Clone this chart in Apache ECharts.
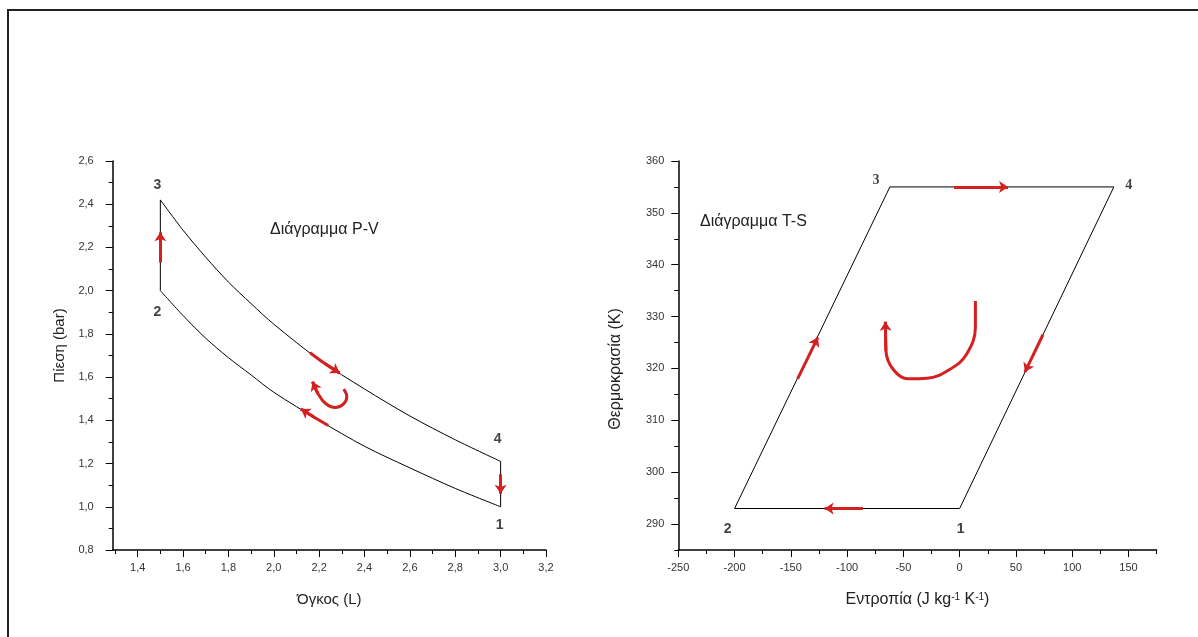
<!DOCTYPE html>
<html>
<head>
<meta charset="utf-8">
<title>P-V / T-S</title>
<script src="https://cdn.jsdelivr.net/npm/echarts@6/dist/echarts.min.js"></script>
<style>
html, body { margin: 0; padding: 0; background: #fff; }
#chart { width: 1198px; height: 637px; }
</style>
</head>
<body>
<div id="chart"></div>
<script>
// P-V diagram (volume in L, pressure in bar)
var pvVolume = [1.5, 1.6, 1.7, 1.8, 1.9, 2.0, 2.2, 2.4, 2.6, 2.8, 3.0];
var pvLowP = [2.00, 1.885, 1.78, 1.69, 1.61, 1.53, 1.40, 1.28, 1.18, 1.085, 1.00];
var pvHighP = [2.42, 2.28, 2.155, 2.04, 1.94, 1.845, 1.68, 1.545, 1.42, 1.31, 1.21];
var pvStates = [[3.0, 1.00], [1.5, 2.00], [1.5, 2.42], [3.0, 1.21]];
var pvArrows = [
    [[1.5, 2.13], [1.5, 2.27]],
    [[3.0, 1.15], [3.0, 1.06]],
    [[2.16, 1.713], [2.225, 1.663], [2.29, 1.619]],
    [[2.24, 1.376], [2.18, 1.413], [2.12, 1.452]],
    [[2.308, 1.544], [2.322, 1.51], [2.308, 1.476], [2.271, 1.459], [2.227, 1.479], [2.194, 1.525], [2.171, 1.579]]
];
var pvXTicks = [1.4, 1.6, 1.8, 2.0, 2.2, 2.4, 2.6, 2.8, 3.0, 3.2];
var pvXMinor = [1.3, 1.5, 1.7, 1.9, 2.1, 2.3, 2.5, 2.7, 2.9, 3.1];
var pvYTicks = [0.8, 1.0, 1.2, 1.4, 1.6, 1.8, 2.0, 2.2, 2.4, 2.6];
var pvYMinor = [0.9, 1.1, 1.3, 1.5, 1.7, 1.9, 2.1, 2.3, 2.5];

// T-S diagram (entropy, temperature in K)
var tsStates = [[0, 293], [-200, 293], [-62, 355], [137, 355]];
var tsArrows = [
    [[-5, 355], [43, 355]],
    [[-86, 293], [-120, 293]],
    [[-144, 318], [-126, 326]],
    [[74, 326.5], [58, 319.3]],
    [[14, 333], [14, 328], [6, 322.7], [-9, 319.8], [-29, 318.1], [-46, 318], [-59, 319.8], [-65.5, 323.4], [-66, 329]]
];
var tsXTicks = [-250, -200, -150, -100, -50, 0, 50, 100, 150];
var tsXMinor = [-225, -175, -125, -75, -25, 25, 75, 125, 175];
var tsYTicks = [290, 300, 310, 320, 330, 340, 350, 360];
var tsYMinor = [285, 295, 305, 315, 325, 335, 345, 355];

var stateNames = ['1', '2', '3', '4'];

// label offsets (px) for the state numbers
var pvLabelOffsets = [[-1, 18], [-3, 21], [-3, -15], [-3, -22]];
var tsLabelOffsets = [[1, 21], [-7, 21], [-14, -7], [15, -2]];

var RED = '#d42020';
var AXIS_FONT = 'Liberation Sans, Arial, sans-serif';

var m_oChart = echarts.init(document.getElementById('chart'));

var _commaFmt = function (v) {
    return v.toFixed(1).replace('.', ',');
};

// axis carrying the line and the short ticks
var _minorAxis = function (iGrid, min, max, arrTicks, strPos) {
    return {
        type: 'value', gridIndex: iGrid, position: strPos,
        min: min, max: max,
        axisLine: { show: true, onZero: false, lineStyle: { color: '#000', width: 1.5 } },
        axisTick: { show: true, inside: false, length: 4, customValues: arrTicks, lineStyle: { color: '#000', width: 1 } },
        axisLabel: { show: false },
        splitLine: { show: false }
    };
};

// axis carrying the long ticks, labels and name
var _majorAxis = function (iGrid, min, max, arrTicks, strPos, fmt, iMargin, oName) {
    var o = {
        type: 'value', gridIndex: iGrid, position: strPos,
        min: min, max: max,
        axisLine: { show: false, onZero: false },
        axisTick: { show: true, inside: false, length: 7, customValues: arrTicks, lineStyle: { color: '#000', width: 1 } },
        axisLabel: {
            show: true, customValues: arrTicks, formatter: fmt, margin: iMargin,
            color: '#333', fontSize: 11, fontFamily: AXIS_FONT
        },
        splitLine: { show: false }
    };
    for (var k in oName) o[k] = oName[k];
    return o;
};

var _pairs = function (arrX, arrY) {
    return arrX.map(function (x, i) { return [x, arrY[i]]; });
};

var _blackLine = function (arrData, iAxis, bSmooth) {
    return {
        type: 'line', xAxisIndex: iAxis, yAxisIndex: iAxis, data: arrData,
        smooth: bSmooth ? 0.3 : false, showSymbol: false, silent: true, z: 3,
        lineStyle: { color: '#000', width: 1 }
    };
};

var _labelSeries = function (arrStates, arrOffsets, iAxis, arrFonts) {
    return {
        type: 'scatter', xAxisIndex: iAxis, yAxisIndex: iAxis, symbolSize: 0, silent: true, z: 6,
        data: arrStates.map(function (p, i) {
            return {
                value: p,
                label: {
                    show: true, formatter: stateNames[i], position: 'inside',
                    offset: arrOffsets[i], color: '#111', fontSize: 14, fontWeight: 'bold',
                    fontFamily: arrFonts[i]
                }
            };
        })
    };
};

// red arrows: body drawn as line, head as a lines segment with arrow symbol
var _arrowSeries = function (arrPaths, iAxis) {
    var arr = [];
    var heads = [];
    arrPaths.forEach(function (path) {
        if (path.length > 2) {
            arr.push({
                type: 'line', xAxisIndex: iAxis, yAxisIndex: iAxis, data: path,
                smooth: 0.4, showSymbol: false, silent: true, z: 5,
                lineStyle: { color: RED, width: 3 }
            });
        }
        heads.push({ coords: path.slice(path.length - 2) });
    });
    arr.push({
        type: 'lines', coordinateSystem: 'cartesian2d', xAxisIndex: iAxis, yAxisIndex: iAxis,
        polyline: false, silent: true, z: 5,
        symbol: ['none', 'arrow'], symbolSize: 9,
        lineStyle: { color: RED, width: 3, opacity: 1, curveness: 0 },
        data: heads
    });
    return arr;
};

var sansBold = 'Liberation Sans, Arial, sans-serif';
var serifBold = 'Liberation Serif, Times New Roman, serif';

var series = [
    _blackLine(_pairs(pvVolume, pvLowP), 1, true),
    _blackLine(_pairs(pvVolume, pvHighP), 1, true),
    _blackLine([pvStates[1], pvStates[2]], 1, false),
    _blackLine([pvStates[3], pvStates[0]], 1, false),
    _blackLine(tsStates.concat([tsStates[0]]), 3, false),
    _labelSeries(pvStates, pvLabelOffsets, 1, [sansBold, sansBold, sansBold, sansBold]),
    _labelSeries(tsStates, tsLabelOffsets, 3, [sansBold, sansBold, serifBold, serifBold])
].concat(_arrowSeries(pvArrows, 1), _arrowSeries(tsArrows, 3));

var option = {
    animation: false,
    backgroundColor: '#fff',
    title: [
        { text: 'Διάγραμμα P-V', left: 270, top: 222, padding: 0,
          textStyle: { fontSize: 16, fontWeight: 'normal', color: '#222', fontFamily: AXIS_FONT } },
        { text: 'Διάγραμμα T-S', left: 700, top: 214, padding: 0,
          textStyle: { fontSize: 16, fontWeight: 'normal', color: '#222', fontFamily: AXIS_FONT } }
    ],
    graphic: [{
        type: 'rect', silent: true, z: 100,
        shape: { x: 8, y: 10, width: 1400, height: 900 },
        style: { fill: 'none', stroke: '#222', lineWidth: 2 }
    }],
    grid: [
        { left: 112.7, top: 161, width: 433.3, height: 389 },
        { left: 678.3, top: 161, width: 478.3, height: 389 }
    ],
    xAxis: [
        _minorAxis(0, 1.29, 3.2, pvXMinor, 'bottom'),
        _majorAxis(0, 1.29, 3.2, pvXTicks, 'bottom', _commaFmt, 12, {
            name: 'Όγκος (L)', nameLocation: 'middle', nameGap: 42,
            nameTextStyle: { fontSize: 15, color: '#222', fontFamily: AXIS_FONT }
        }),
        _minorAxis(1, -250, 175, tsXMinor, 'bottom'),
        _majorAxis(1, -250, 175, tsXTicks, 'bottom', function (v) { return String(v); }, 12, {
            name: 'Εντροπία (J kg{s|-1} K{s|-1})', nameLocation: 'middle', nameGap: 42,
            nameTextStyle: {
                fontSize: 16, color: '#222', fontFamily: AXIS_FONT,
                rich: { s: { fontSize: 10, verticalAlign: 'top', color: '#222', padding: [0, 0, 6, 0] } }
            }
        })
    ],
    yAxis: [
        _minorAxis(0, 0.8, 2.6, pvYMinor, 'left'),
        _majorAxis(0, 0.8, 2.6, pvYTicks, 'left', _commaFmt, 19, {
            name: 'Πίεση (bar)', nameLocation: 'middle', nameGap: 45,
            nameTextStyle: { fontSize: 15, color: '#222', fontFamily: AXIS_FONT, padding: [0, 0, 0, 20] }
        }),
        _minorAxis(1, 285, 360, tsYMinor, 'left'),
        _majorAxis(1, 285, 360, tsYTicks, 'left', function (v) { return String(v); }, 14, {
            name: 'Θερμοκρασία (K)', nameLocation: 'middle', nameGap: 55,
            nameTextStyle: { fontSize: 16, color: '#222', fontFamily: AXIS_FONT, padding: [0, 27, 0, 0] }
        })
    ],
    series: series
};

m_oChart.setOption(option);
</script>
</body>
</html>
